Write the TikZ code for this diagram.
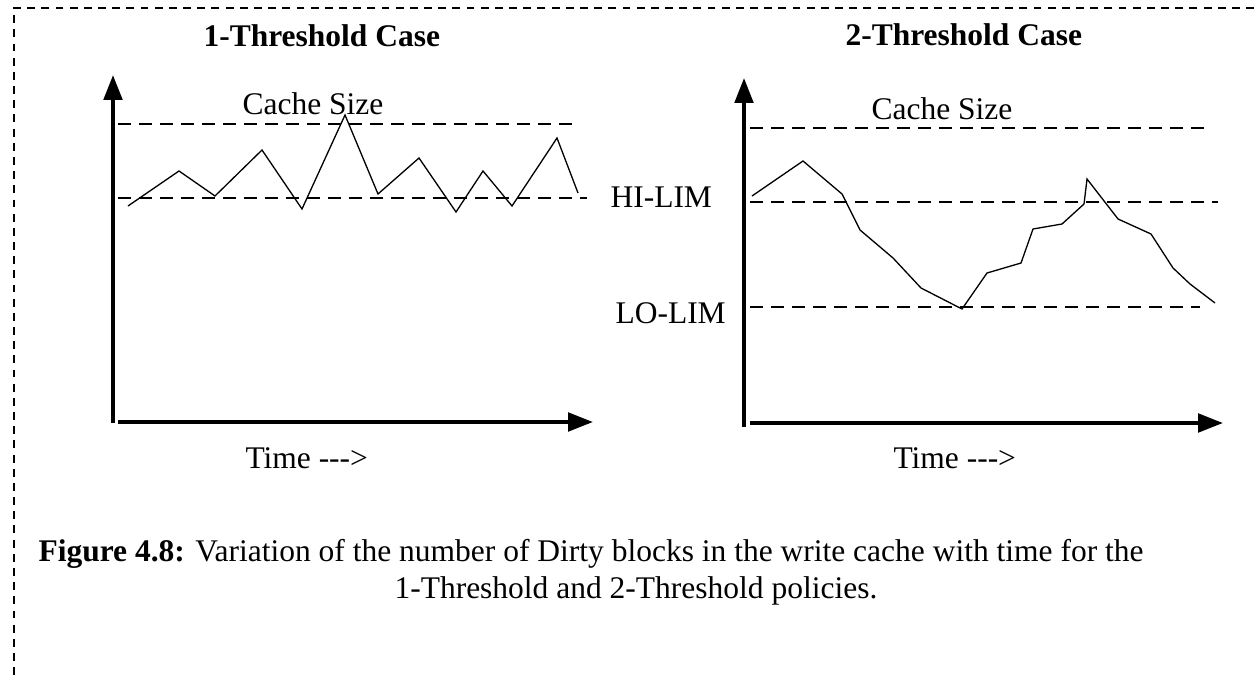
\documentclass[tikz,border=0pt]{standalone}
\usepackage{fontspec}
\setmainfont{Liberation Serif}
\usetikzlibrary{arrows.meta}

\tikzset{
  eje/.style={line width=1.5pt,-{Triangle[length=9.5pt,width=7pt]}},
  limite/.style={line width=0.4pt,dash pattern=on 5pt off 3pt},
  curva/.style={line width=0.5pt},
  borde/.style={line width=0.4pt,dash pattern=on 3pt off 2.4pt},
  texto/.style={inner sep=0pt,anchor=base west}
}

\begin{document}
\begin{tikzpicture}[x=0.381pt,y=-0.381pt,font=\fontsize{12pt}{14pt}\selectfont]
\useasboundingbox (0,0) rectangle (1254,676);
%\draw[help lines](0,0) grid (1254,676);
\draw[borde] (1254,8) -- (14,8) -- (14,676); % borde

\node[texto,font=\fontsize{12pt}{14pt}\selectfont\bfseries] (titulo1) at (203,47) {1-Threshold Case}; % titulo 1
\node[texto,font=\fontsize{12pt}{14pt}\selectfont\bfseries] (titulo2) at (845,46) {2-Threshold Case}; % titulo 2

\draw[eje] (113,423) -- (113,75); % eje y 1
\draw[eje] (118,422) -- (593,422); % eje x 1
\draw[eje] (744,427) -- (744,78); % eje y 2
\draw[eje] (750,423) -- (1223,423); % eje x 2

\draw[limite] (118,124) -- (577,124); % cache 1
\draw[limite] (118,198) -- (587,198); % umbral 1
\draw[limite] (750,128) -- (1208,128); % cache 2
\draw[limite] (750,202) -- (1218,202); % hi-lim
\draw[limite] (750,307) -- (1200,307); % lo-lim

\node[texto] (cache1) at (242,115) {Cache Size}; % texto cache 1
\node[texto] (cache2) at (871,120) {Cache Size}; % texto cache 2
\node[texto] (hilim) at (610,208) {HI-LIM}; % texto hi
\node[texto] (lolim) at (615,323) {LO-LIM}; % texto lo
\node[texto] (tiempo1) at (245,468) {Time -{}-{}->}; % tiempo 1
\node[texto] (tiempo2) at (893,468) {Time -{}-{}->}; % tiempo 2

\draw[curva] (128,206) -- (179,171) -- (215,196) -- (262,150) -- (302,209)
  -- (345,115) -- (378,194) -- (419,158) -- (456,212) -- (483,171)
  -- (512,206) -- (557,138) -- (578,193); % bloques sucios 1

\draw[curva] (752,196) -- (803,161) -- (842,194) -- (860,230) -- (893,258)
  -- (921,288) -- (962,309) -- (987,273) -- (1021,263) -- (1033,229)
  -- (1062,224) -- (1084,204) -- (1087,179) -- (1118,219) -- (1151,234)
  -- (1173,268) -- (1190,284) -- (1215,303); % bloques sucios 2

\node[texto] (pie1) at (38,561) {\textbf{Figure 4.8:} Variation of the number of Dirty blocks in the write cache with time for the}; % pie 1
\node[texto] (pie2) at (394,598) {1-Threshold and 2-Threshold policies.}; % pie 2
\end{tikzpicture}
\end{document}
